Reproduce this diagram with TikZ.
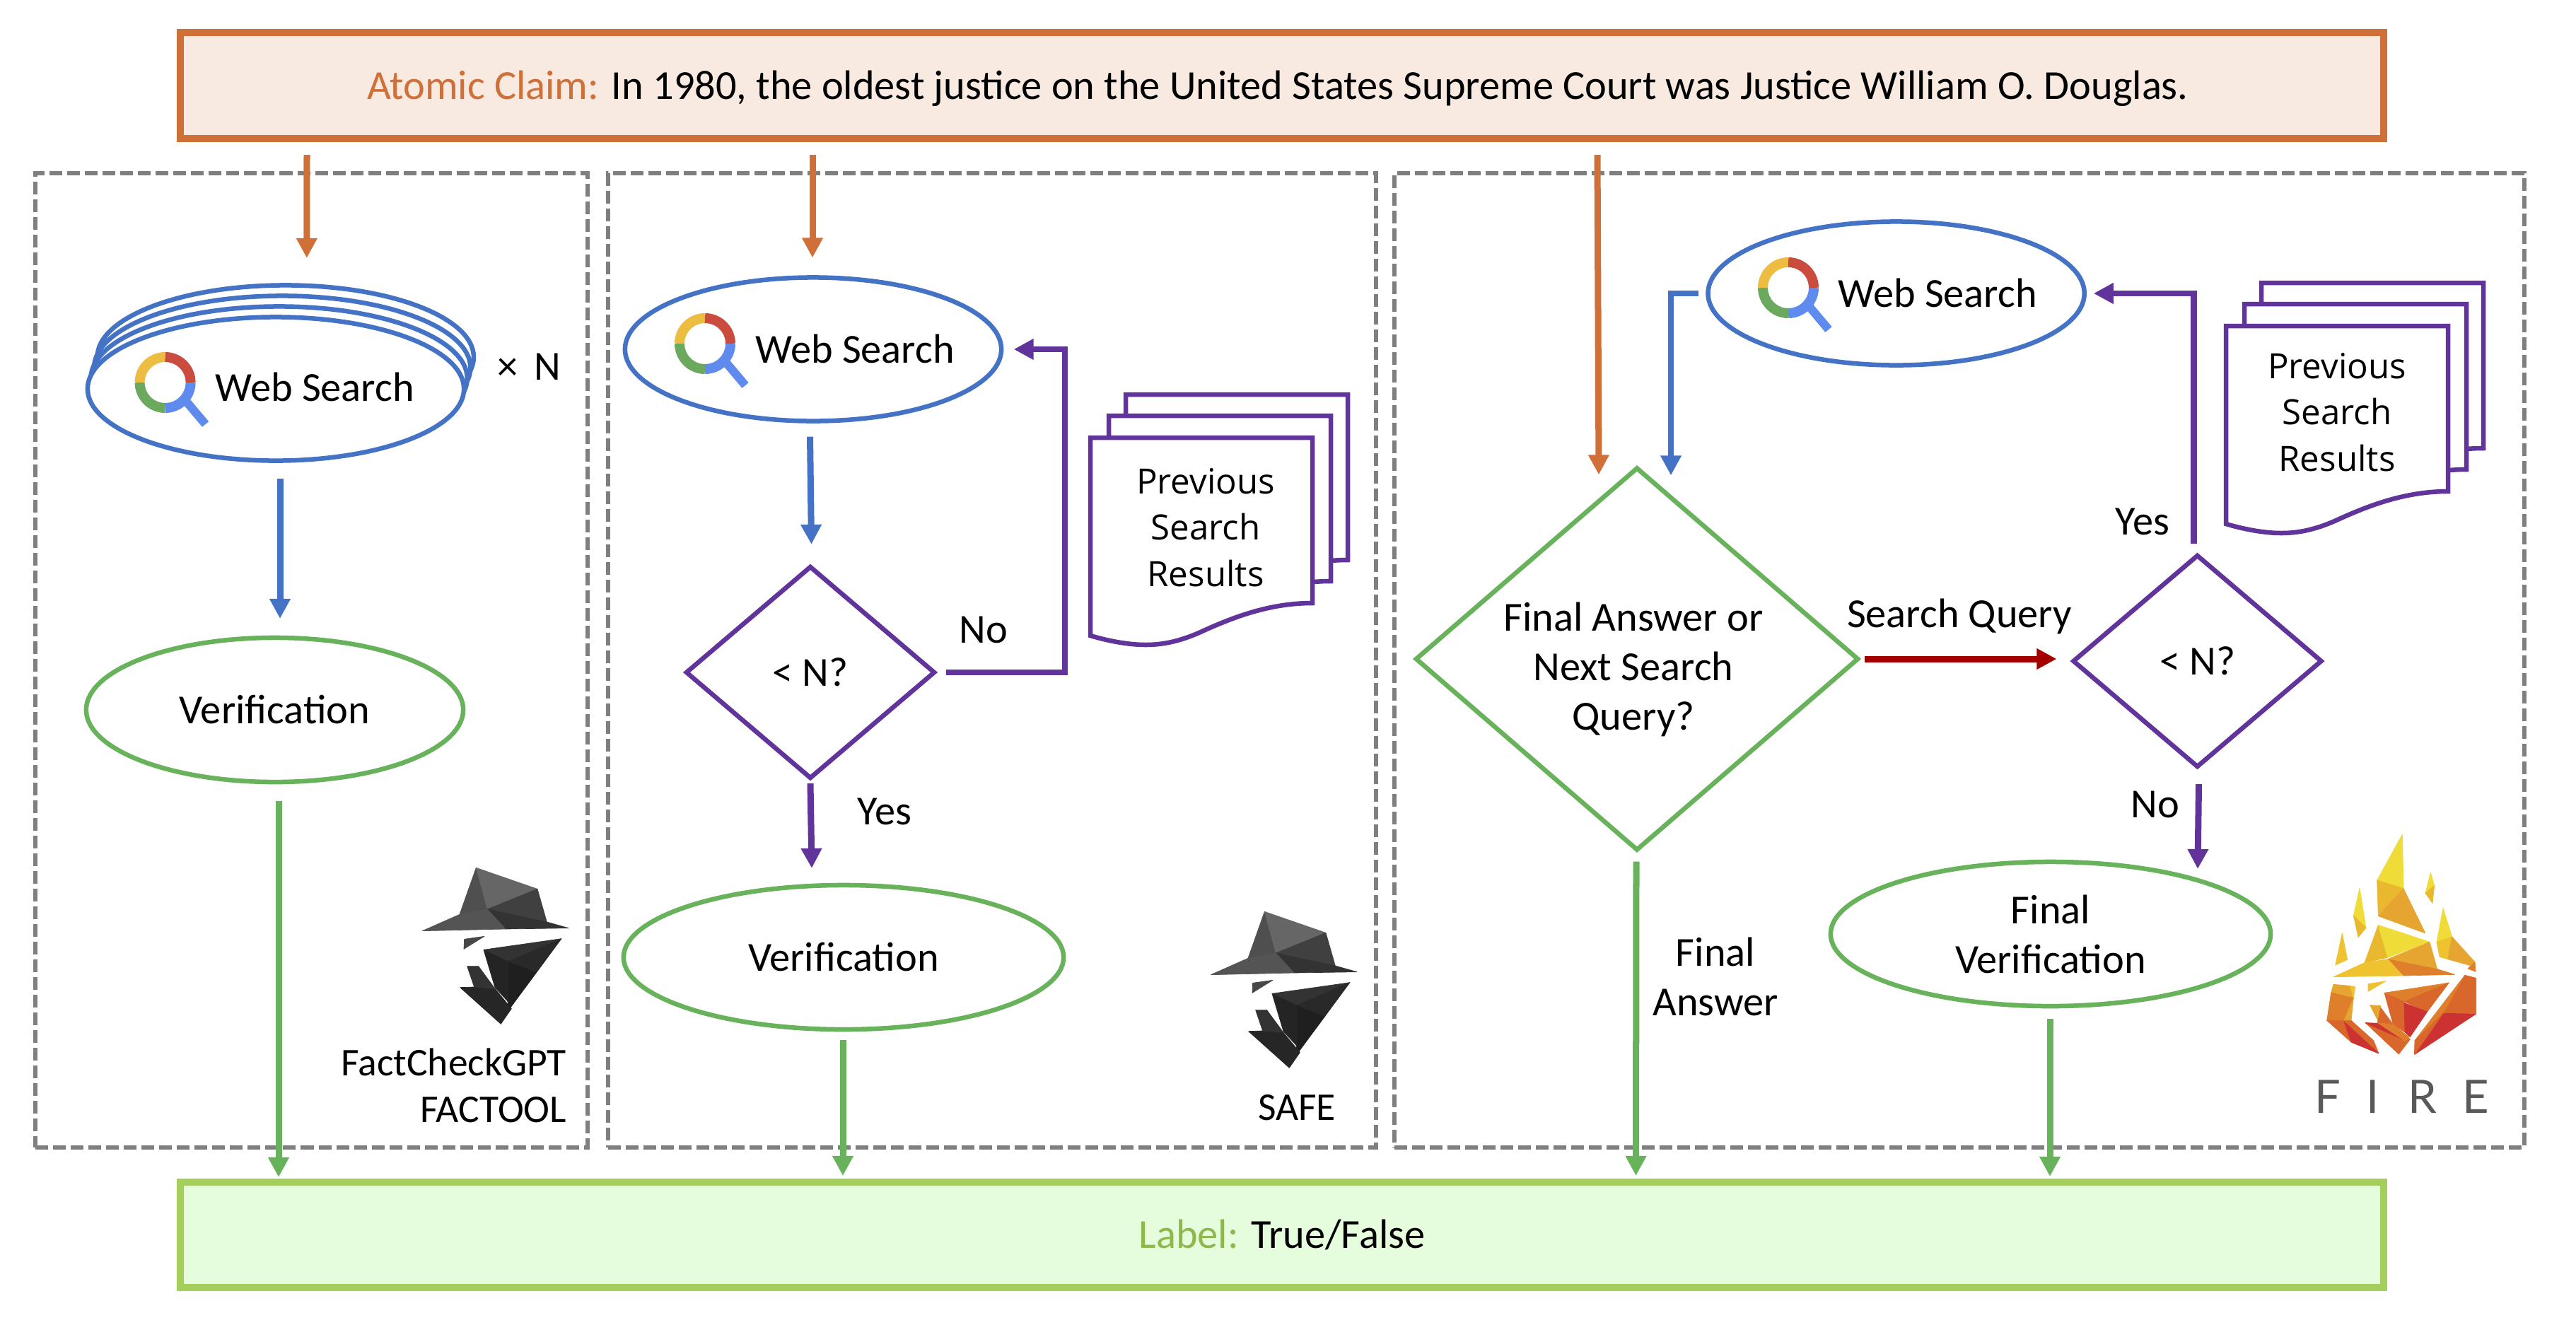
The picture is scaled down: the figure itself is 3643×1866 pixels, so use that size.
\documentclass[tikz,border=0pt]{standalone}
\usepackage{fontspec}
\setmainfont{Carlito}
\newfontfamily\docfont{Open Sans}
\newfontfamily\firefont{Lato}
\usepackage{tikz}
\usetikzlibrary{arrows.meta,shapes.geometric}

\definecolor{clmorange}{HTML}{CF7039}
\definecolor{clmfill}{HTML}{F8EAE0}
\definecolor{lblgreen}{HTML}{A5CF5C}
\definecolor{lbltext}{HTML}{8FB84C}
\definecolor{lblfill}{HTML}{E6FDDD}
\definecolor{wsblue}{HTML}{4472C4}
\definecolor{vfgreen}{HTML}{67B25A}
\definecolor{nqpurple}{HTML}{60349B}
\definecolor{qryred}{HTML}{A50000}
\definecolor{framegray}{HTML}{7F7F7F}
\definecolor{icyellow}{HTML}{EDBD41}
\definecolor{icred}{HTML}{C94C3F}
\definecolor{icgreen}{HTML}{6BA95E}
\definecolor{icblue}{HTML}{5F8BEE}
\definecolor{fyel}{HTML}{F0DC38}
\definecolor{famb}{HTML}{EAB82F}
\definecolor{fgol}{HTML}{E6A531}
\definecolor{fsun}{HTML}{EFC22F}
\definecolor{fora}{HTML}{DF7F2B}
\definecolor{fdor}{HTML}{D9672B}
\definecolor{fred}{HTML}{CD3232}

\newcommand{\facet}[2]{\filldraw[#1,line width=0.2pt,line join=round] #2 -- cycle;}

\tikzset{
  base/.style={font=\fontsize{16.6}{19.9}\selectfont,inner sep=0pt,outer sep=0pt},
  lbl/.style={base,anchor=base,align=center},
  methodlbl/.style={lbl,anchor=base east,font=\fontsize{15.8}{19}\selectfont},
  searchell/.style={base,ellipse,draw=wsblue,fill=white,line width=0.065cm,minimum width=5.32cm,minimum height=2.03cm},
  verifell/.style={base,ellipse,draw=vfgreen,fill=white,line width=0.065cm,minimum height=2.04cm,align=center},
  ndia/.style={base,diamond,draw=nqpurple,fill=white,line width=0.065cm,minimum width=3.5cm,minimum height=2.98cm},
  panel/.style={draw=framegray,line width=0.06cm,dash pattern=on 0.18cm off 0.07cm},
  flow/.style={line width=0.09cm,-{Triangle[length=0.28cm,width=0.28cm]}},
  doctxt/.style={lbl,anchor=center,font=\docfont\fontsize{14}{18.6}\selectfont},
  searchicon/.pic={
    \foreach \c/\a in {icblue/0,icgreen/90,icyellow/180,icred/270}
      \draw[\c,line width=0.14cm] (\a:36) arc[start angle=\a,end angle=\a+90,radius=36];
    \draw[icblue,line width=0.12cm] (30,27) -- (57,59);
  },
  docstack/.pic={
    \foreach \dx/\dy in {50/-61,26/-31,0/0}
      \draw[nqpurple,line width=0.065cm,fill=white,shift={(\dx,\dy)}]
        (0,0) -- (314,0) -- (314,234) .. controls (258,234) and (208,251) .. (158,274)
        .. controls (123,290) and (98,293) .. (78,293) .. controls (53,293) and (23,287) .. (0,280) -- cycle;
  },
  hatlogo/.pic={
    \facet{fill=black!69!white,draw=black!69!white}{(520,232) -- (568,408) -- (450,430)}
    \facet{fill=black!60!white,draw=black!60!white}{(520,232) -- (780,322) -- (568,408)}
    \facet{fill=black!75!white,draw=black!75!white}{(780,322) -- (820,462) -- (568,408)}
    \facet{fill=black!80!white,draw=black!80!white}{(568,408) -- (820,462) -- (912,488) -- (645,492)}
    \facet{fill=black!67!white,draw=black!67!white}{(292,500) -- (450,430) -- (568,408) -- (645,492)}
    \facet{fill=black!72!white,draw=black!72!white}{(470,535) -- (555,523) -- (468,577)}
    \facet{fill=black!80!white,draw=black!80!white}{(552,580) -- (882,533) -- (655,630)}
    \facet{fill=black!84!white,draw=black!84!white}{(882,533) -- (775,678) -- (655,630)}
    \facet{fill=black!86!white,draw=black!86!white}{(552,580) -- (655,630) -- (655,800) -- (600,740)}
    \facet{fill=black!88!white,draw=black!88!white}{(655,630) -- (775,678) -- (655,840)}
    \facet{fill=black!85!white,draw=black!85!white}{(452,740) -- (512,738) -- (600,745) -- (670,830) -- (625,895)}
    \facet{fill=black!80!white,draw=black!80!white}{(482,650) -- (530,650) -- (600,745) -- (512,738)}
  },
  firelogo/.pic={
    \facet{fill=fyel,draw=fyel}{(592,90) -- (597,320) -- (485,285)}
    \facet{fill=famb,draw=famb}{(485,285) -- (597,320) -- (490,435)}
    \facet{fill=fgol,draw=fgol}{(597,320) -- (690,510) -- (490,437)}
    \facet{fill=fyel,draw=fyel}{(712,252) -- (728,307) -- (690,340)}
    \facet{fill=famb,draw=famb}{(728,307) -- (720,382) -- (690,340)}
    \facet{fill=fyel,draw=fyel}{(411,318) -- (438,487) -- (385,435)}
    \facet{fill=famb,draw=famb}{(385,435) -- (438,487) -- (405,527)}
    \facet{fill=fsun,draw=fsun}{(337,510) -- (359,622) -- (308,645)}
    \facet{fill=fyel,draw=fyel}{(765,403) -- (803,525) -- (738,547)}
    \facet{fill=fsun,draw=fsun}{(738,547) -- (803,525) -- (785,620) -- (750,610)}
    \facet{fill=fgol,draw=fgol}{(803,525) -- (900,632) -- (880,647) -- (785,620)}
    \facet{fill=fora,draw=fora}{(900,632) -- (903,673) -- (870,660)}
    \facet{fill=famb,draw=famb}{(490,475) -- (530,613) -- (432,635)}
    \facet{fill=fyel,draw=fyel}{(490,475) -- (708,547) -- (530,613)}
    \facet{fill=fgol,draw=fgol}{(708,547) -- (740,662) -- (530,620)}
    \facet{fill=fora,draw=fora}{(530,620) -- (740,662) -- (815,685) -- (595,690)}
    \facet{fill=fsun,draw=fsun}{(300,695) -- (432,635) -- (530,620) -- (595,690)}
    \facet{fill=fgol,draw=fgol}{(300,727) -- (370,733) -- (385,785) -- (290,762)}
    \facet{fill=fsun,draw=fsun}{(370,733) -- (392,737) -- (385,785)}
    \facet{fill=fora,draw=fora}{(290,762) -- (385,785) -- (345,880) -- (272,880)}
    \facet{fill=fgol,draw=fgol}{(385,785) -- (375,880) -- (345,880)}
    \facet{fill=fdor,draw=fdor}{(272,880) -- (345,880) -- (375,880) -- (470,965) -- (492,1020) -- (375,972)}
    \facet{fill=fred,draw=fred}{(345,885) -- (492,1020) -- (375,972)}
    \facet{fill=fsun,draw=fsun}{(447,725) -- (522,713) -- (447,757)}
    \facet{fill=fora,draw=fora}{(516,763) -- (790,720) -- (600,800)}
    \facet{fill=fdor,draw=fdor}{(600,800) -- (790,720) -- (698,843)}
    \facet{fill=fdor,draw=fdor}{(516,763) -- (600,800) -- (603,930) -- (553,897)}
    \facet{fill=fred,draw=fred}{(600,805) -- (698,843) -- (625,950) -- (603,930)}
    \facet{fill=fgol,draw=fgol}{(455,815) -- (500,818) -- (488,880)}
    \facet{fill=fdor,draw=fdor}{(500,825) -- (553,897) -- (487,890)}
    \facet{fill=fdor,draw=fdor}{(435,890) -- (553,897) -- (625,960) -- (577,1023)}
    \facet{fill=fred,draw=fred}{(435,890) -- (487,892) -- (605,965)}
    \facet{fill=fora,draw=fora}{(487,890) -- (553,897) -- (620,950) -- (605,968)}
    \facet{fill=fdor,draw=fdor}{(857,688) -- (905,700) -- (905,850) -- (765,850)}
    \facet{fill=fora,draw=fora}{(857,688) -- (765,850) -- (645,965)}
    \facet{fill=fred,draw=fred}{(765,850) -- (905,852) -- (643,1025)}
    \facet{fill=fdor,draw=fdor}{(765,850) -- (643,1025) -- (645,965)}
  }
}

\begin{document}
\begin{tikzpicture}[x=0.01cm,y=-0.01cm]
\useasboundingbox (0,0) rectangle (3643,1866);

% top and bottom bars
\node[base,draw=clmorange,fill=clmfill,line width=0.1cm,minimum width=31.15cm,minimum height=1.5cm] (claim) at (1813,121) {};
\node[lbl] (claimtxt) at (1807,140) {\textcolor{clmorange}{Atomic Claim:} In 1980, the oldest justice on the United States Supreme Court was Justice William O. Douglas.};
\node[base,draw=lblgreen,fill=lblfill,line width=0.1cm,minimum width=31.15cm,minimum height=1.49cm] (label) at (1813,1746.5) {};
\node[lbl] (labeltxt) at (1813,1765) {\textcolor{lbltext}{Label:} True/False};

% panels
\node[base,panel,minimum width=7.8cm,minimum height=13.78cm] (panelA) at (440.5,934) {};
\node[base,panel,minimum width=10.86cm,minimum height=13.78cm] (panelB) at (1403,934) {};
\node[base,panel,minimum width=15.97cm,minimum height=13.78cm] (panelC) at (2771,934) {};

% first panel
\foreach \i in {3,2,1}
  \node[searchell] (wsA\i) at ({390+4.6*\i},{550-15*\i}) {};
\node[searchell] (wsA) at (390,550) {};
\pic (iconA) at (233.6,541) {searchicon};
\node[lbl] (wsAtxt) at (445,567) {Web Search};
\node[lbl] (times) at (748,537) {×\hspace{0.1cm} N};
\node[verifell,minimum width=5.33cm] (vfA) at (388.5,1004) {Verification};
\draw[flow,draw=clmorange] ([shift={(-1379,23)}]claim.south) -- ([shift={(30,-38.5)}]wsA3.north);
\draw[flow,draw=wsblue] ([shift={(6,25)}]wsA.south) -- ([shift={(7.5,-27)}]vfA.north);
\draw[flow,draw=vfgreen] ([shift={(5.5,27)}]vfA.south) -- ([shift={(-1419,-7)}]label.north);
\pic[scale=0.3333] (hatA) at (500,1150) {hatlogo};
\node[methodlbl] (factcheck) at (801,1521) {FactCheckGPT};
\node[methodlbl] (factool) at (801,1587) {FACTOOL};

% second panel
\node[searchell] (wsB) at (1150,494) {};
\pic (iconB) at (997,486) {searchicon};
\node[lbl] (wsBtxt) at (1209,513) {Web Search};
\node[ndia] (nqB) at (1146,951) {< N?};
\node[verifell,minimum width=6.22cm] (vfB) at (1193,1354) {Verification};
\pic (docB) at (1542,619) {docstack};
\node[doctxt] (docBtxt) at (1705,746) {Previous\\Search\\Results};
\draw[flow,draw=clmorange] ([shift={(-664,23)}]claim.south) -- ([shift={(-1,-28)}]wsB.north);
\draw[flow,draw=wsblue] ([shift={(-4.5,22)}]wsB.south) -- ([shift={(1.5,-32)}]nqB.north);
\draw[flow,draw=nqpurple,line width=0.085cm] ([xshift=0.17cm]nqB.east) -| (1506,494) -- ([xshift=0.175cm]wsB.east);
\draw[flow,draw=nqpurple] ([shift={(0,8)}]nqB.south) -- ([shift={(-45,-24)}]vfB.north);
\draw[flow,draw=vfgreen] ([shift={(-1,15)}]vfB.south) -- ([shift={(-621,-9)}]label.north);
\node[lbl] (noB) at (1391,909) {No};
\node[lbl] (yesB) at (1251,1166) {Yes};
\pic[scale=0.3333] (hatB) at (1615,1212) {hatlogo};
\node[methodlbl] (safe) at (1889,1584) {SAFE};

% third panel
\node[searchell] (wsC) at (2681.6,415) {};
\pic (iconC) at (2529,407) {searchicon};
\node[lbl] (wsCtxt) at (2740,434) {Web Search};
\node[base,diamond,draw=vfgreen,fill=white,line width=0.065cm,minimum width=6.24cm,minimum height=5.39cm] (fqC) at (2315,932) {};
\node[lbl,anchor=center] (fqCtxt) at (2310,947) {Final Answer or\\Next Search\\Query?};
\node[ndia] (nqC) at (3107.5,935) {< N?};
\node[verifell,minimum width=6.22cm] (vfC) at (2900,1321) {Final\\Verification};
\pic (docC) at (3148,461) {docstack};
\node[doctxt] (docCtxt) at (3305,583) {Previous\\Search\\Results};
\draw[flow,draw=clmorange] ([shift={(446,23)}]claim.south) -- ([shift={(-54,9)}]fqC.north);
\draw[flow,draw=wsblue,line width=0.085cm] ([xshift=-0.135cm]wsC.west) -| ([shift={(48,10)}]fqC.north);
\draw[flow,draw=qryred] ([xshift=0.1cm]fqC.east) -- ([shift={(-24,-3)}]nqC.west);
\draw[flow,draw=nqpurple,line width=0.085cm] ([shift={(-5,-17)}]nqC.north) |- ([xshift=0.13cm]wsC.east);
\draw[flow,draw=nqpurple] ([shift={(2,25)}]nqC.south) -- ([shift={(208,10)}]vfC.north);
\draw[flow,draw=vfgreen] ([shift={(-1,17)}]fqC.south) -- ([shift={(500.5,-9)}]label.north);
\draw[flow,draw=vfgreen] ([shift={(-1,18)}]vfC.south) -- ([shift={(1086,-8)}]label.north);
\node[lbl] (sqC) at (2771,887) {Search Query};
\node[lbl] (yesC) at (3030,756) {Yes};
\node[lbl] (noC) at (3048,1156) {No};
\node[lbl,anchor=center] (faC) at (2426,1381) {Final\\Answer};
\pic[scale=0.3333] (fireC) at (3200,1150) {firelogo};
\node[lbl,anchor=base,text=black!65!white,font=\firefont\fontsize{18.5}{23}\selectfont] (firetxt) at (3397,1574) {F\hspace{0.36cm}I\hspace{0.41cm}R\hspace{0.36cm}E};
\end{tikzpicture}
\end{document}
